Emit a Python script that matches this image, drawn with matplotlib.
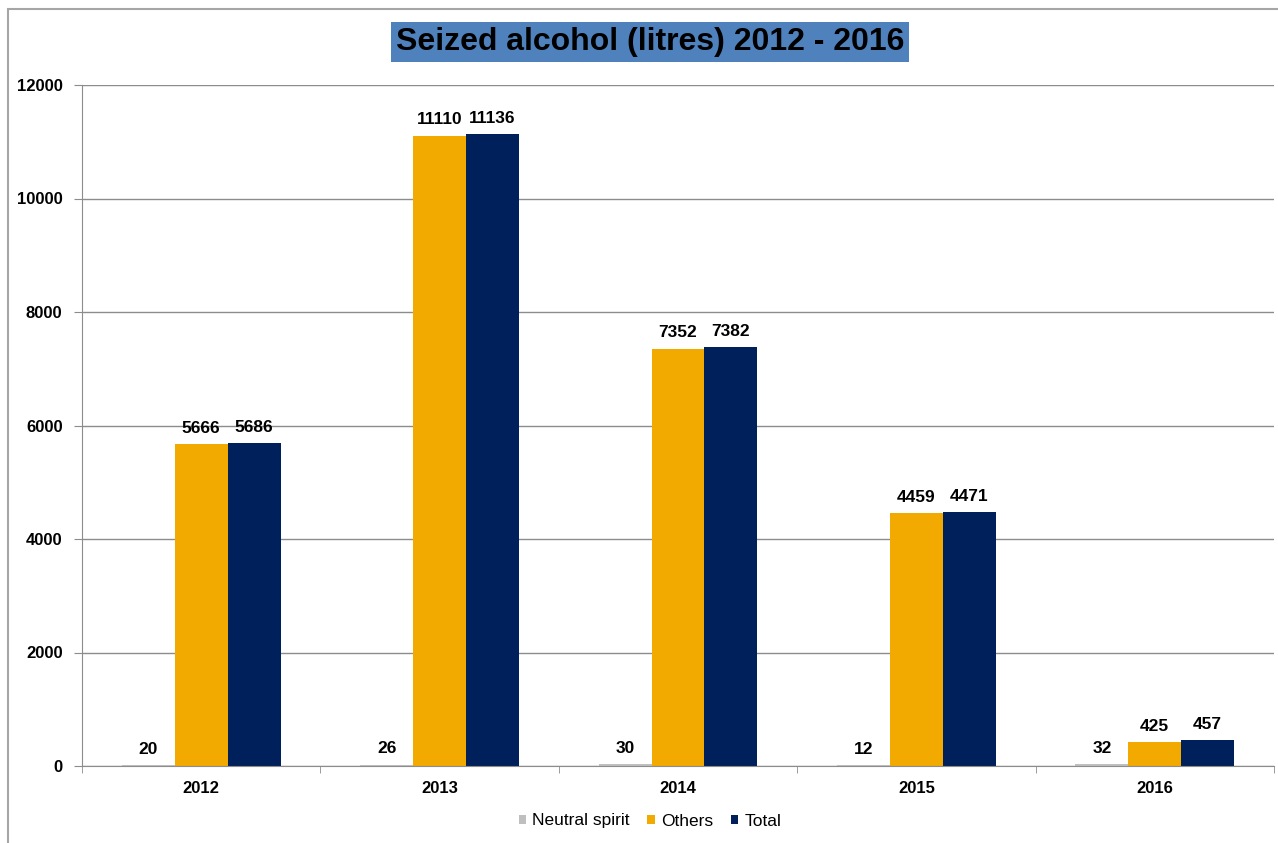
import numpy as np
import matplotlib.pyplot as plt
from matplotlib.patches import Rectangle

years = ["2012", "2013", "2014", "2015", "2016"]
neutral = [20, 26, 30, 12, 32]
others = [5666, 11110, 7352, 4459, 425]
total = [5686, 11136, 7382, 4471, 457]

series = [
    ("Neutral spirit", neutral, "#BFBFBF"),
    ("Others", others, "#F2A900"),
    ("Total", total, "#00205B"),
]

plt.rcParams["font.family"] = ["Liberation Sans", "DejaVu Sans"]

fig = plt.figure(figsize=(12.78, 8.43), dpi=100)
W, H = 1278, 843
ax = fig.add_axes([82 / W, 1 - 766 / H, (1274 - 82) / W, (766 - 85) / H])

# chart border (left and top visible)
fig.patches.append(Rectangle((8 / W, -0.1), 1.2, 1 - 9 / H + 0.1, transform=fig.transFigure,
                             fill=False, edgecolor="#A6A6A6", linewidth=1.5))

x = np.arange(len(years))
bw = 0.222
for i, (name, vals, col) in enumerate(series):
    pos = x + (i - 1) * bw
    ax.bar(pos, vals, bw, color=col, label=name, zorder=3)
    for p, v in zip(pos, vals):
        ax.annotate(str(v), (p, v), xytext=(0, 6), textcoords="offset points",
                    ha="center", va="bottom", fontsize=12.5, fontweight="bold", zorder=4)

ax.set_xlim(-0.5, len(years) - 0.5)
ax.set_ylim(0, 12000)
ax.set_yticks(np.arange(0, 12001, 2000))
ax.yaxis.grid(True, color="#8C8C8C", linewidth=1, zorder=0)
ax.set_xticks(x)
ax.set_xticklabels(years, fontsize=12, fontweight="bold")
ax.set_xticks(np.arange(-0.5, len(years)), minor=True)
ax.tick_params(axis="x", which="major", length=0, pad=11)
ax.tick_params(axis="x", which="minor", length=5, color="#8C8C8C", direction="out")
ax.tick_params(axis="y", length=6, color="#8C8C8C", pad=8)
for lbl in ax.get_yticklabels():
    lbl.set_fontweight("bold")
    lbl.set_fontsize(12)
for s in ["top", "right"]:
    ax.spines[s].set_visible(False)
for s in ["left", "bottom"]:
    ax.spines[s].set_color("#8C8C8C")
ax.spines["bottom"].set_zorder(5)

fig.text(650 / W, 1 - 42 / H, "Seized alcohol (litres) 2012 - 2016", ha="center", va="center",
         fontsize=23, fontweight="bold",
         bbox=dict(boxstyle="square,pad=0.16", facecolor="#4F81BD", edgecolor="none"))

fig.legend(loc="center", bbox_to_anchor=(650 / W, 1 - 821 / H), ncol=3, frameon=False,
           fontsize=12.5, handlelength=0.45, handleheight=0.45, handletextpad=0.35,
           columnspacing=1.0)

fig.savefig("out.png", dpi=100)
